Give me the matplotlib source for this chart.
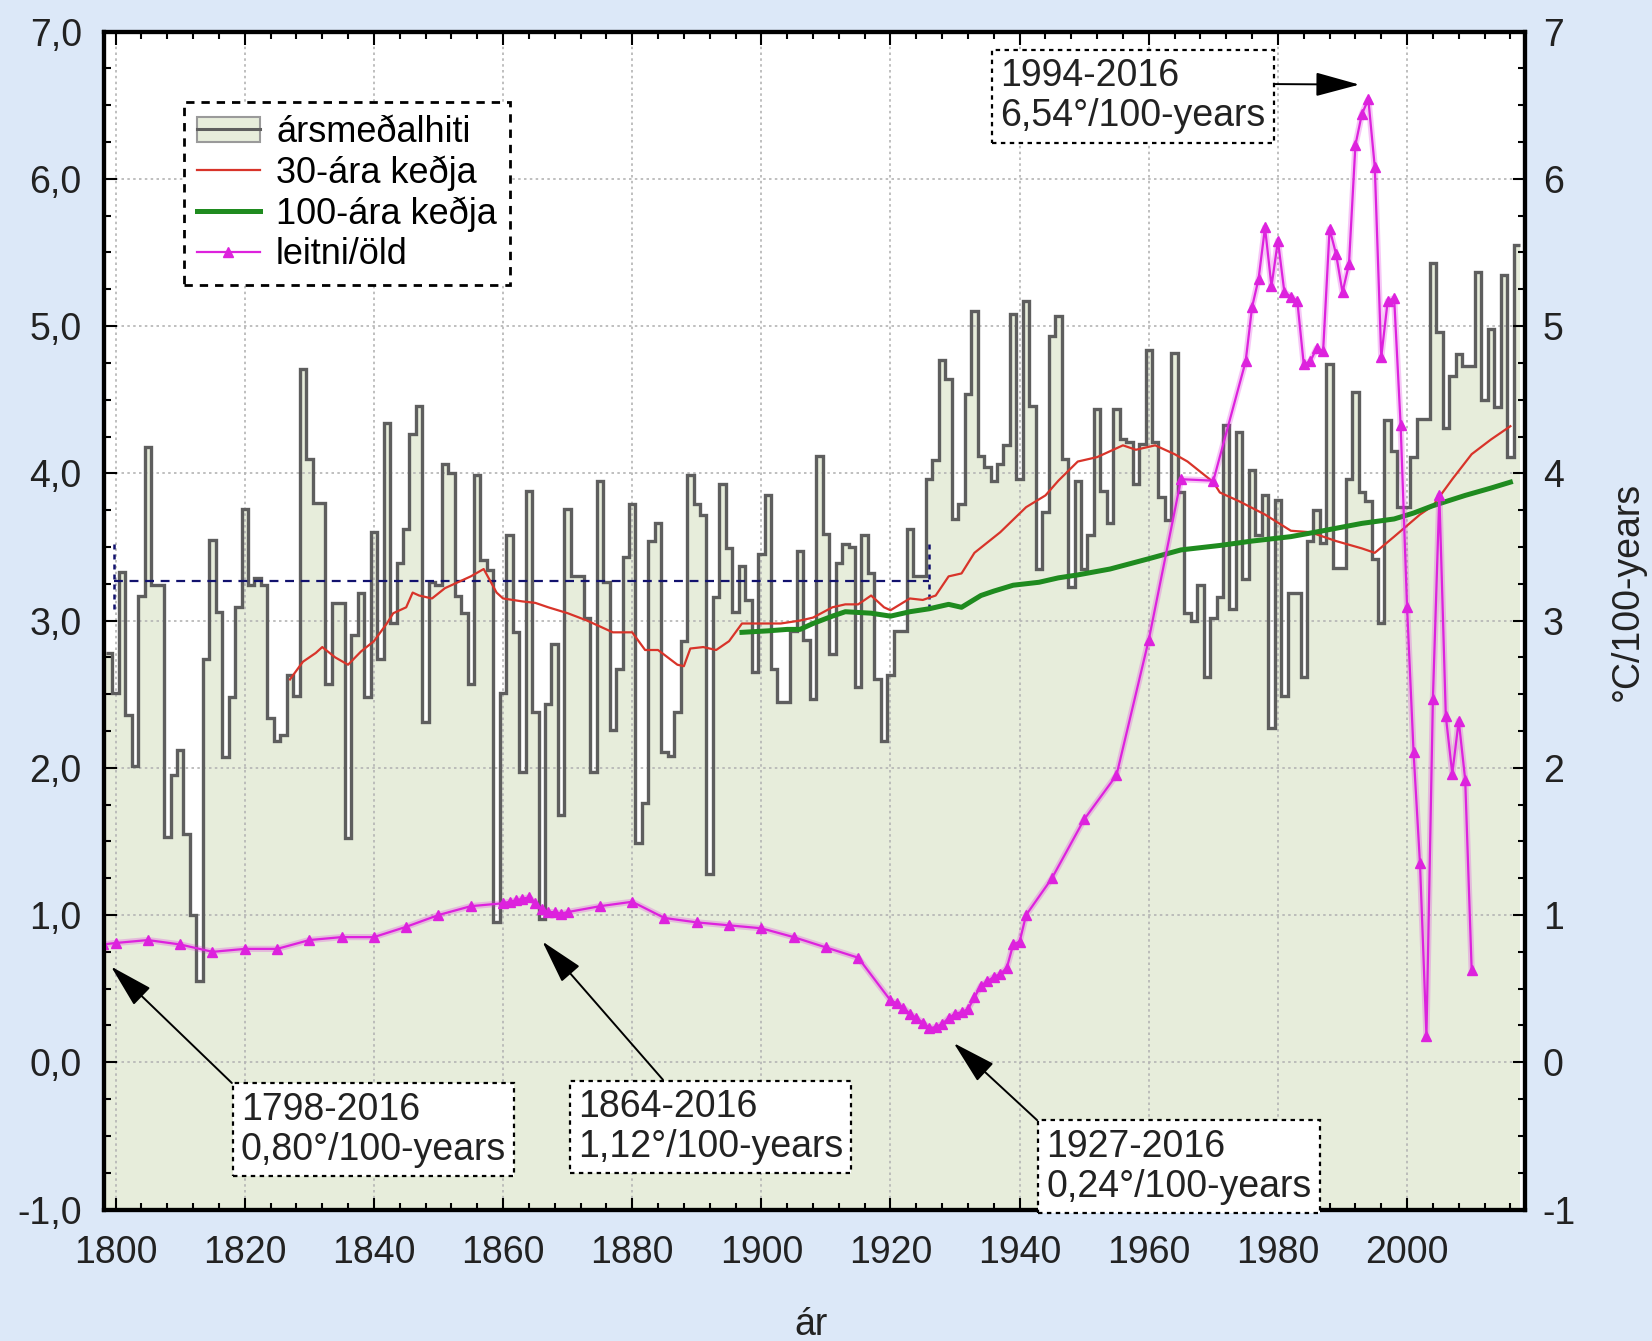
import numpy as np
import matplotlib
matplotlib.use("Agg")
import matplotlib.pyplot as plt
from matplotlib.lines import Line2D
from matplotlib.patches import Patch
from matplotlib.ticker import MultipleLocator, FuncFormatter

plt.rcParams['font.family'] = ['Liberation Sans', 'DejaVu Sans']

# annual mean temperature, one value per year 1798-2016
years = np.arange(1798, 2017)
temps = [
    2.78, 2.51, 3.33, 2.36, 2.01, 3.17, 4.18, 3.24, 3.24, 1.53,
    1.95, 2.12, 1.55, 1.00, 0.55, 2.74, 3.55, 3.06, 2.07, 2.48,
    3.09, 3.76, 3.24, 3.29, 3.24, 2.34, 2.18, 2.22, 2.63, 2.49,
    4.71, 4.10, 3.80, 3.80, 2.57, 3.12, 3.12, 1.52, 2.90, 3.19,
    2.48, 3.60, 2.74, 4.34, 2.98, 3.39, 3.62, 4.27, 4.46, 2.31,
    3.26, 3.24, 4.06, 4.00, 3.17, 3.05, 2.57, 3.99, 3.41, 3.34,
    0.95, 2.51, 3.58, 2.92, 1.97, 3.88, 2.38, 0.97, 2.43, 2.84,
    1.68, 3.76, 3.30, 3.30, 3.02, 1.97, 3.95, 3.26, 2.26, 2.67,
    3.43, 3.79, 1.49, 1.76, 3.54, 3.66, 2.11, 2.08, 2.38, 2.86,
    3.99, 3.79, 3.72, 1.28, 3.16, 3.93, 3.49, 3.06, 3.37, 3.14,
    2.65, 3.45, 3.85, 2.67, 2.45, 2.45, 2.93, 3.47, 2.87, 2.47,
    4.12, 3.59, 2.77, 3.39, 3.52, 3.50, 2.55, 3.58, 3.32, 2.60,
    2.18, 2.63, 2.93, 2.93, 3.62, 3.30, 3.30, 3.96, 4.09, 4.77,
    4.64, 3.69, 3.79, 4.54, 5.10, 4.12, 4.04, 3.95, 4.06, 4.19,
    5.08, 3.96, 5.17, 4.46, 3.35, 3.74, 4.93, 5.07, 4.10, 3.23,
    3.95, 3.35, 3.58, 4.44, 3.88, 3.66, 4.44, 4.23, 4.21, 3.93,
    4.20, 4.84, 4.21, 3.84, 3.68, 4.82, 3.87, 3.05, 3.00, 3.24,
    2.62, 3.02, 3.16, 4.33, 3.08, 4.28, 3.28, 4.02, 3.58, 3.85,
    2.27, 3.82, 2.49, 3.19, 3.19, 2.62, 3.54, 3.75, 3.53, 4.74,
    3.36, 3.36, 3.96, 4.55, 3.87, 3.81, 3.42, 2.98, 4.36, 4.15,
    3.77, 3.77, 4.11, 4.37, 4.37, 5.43, 4.96, 4.31, 4.66, 4.81,
    4.73, 4.73, 5.37, 4.50, 4.98, 4.45, 5.35, 4.11, 5.55,
]

# 30-year running mean
run30_x = [1827, 1829, 1831, 1832, 1834, 1836, 1838, 1840, 1842, 1843,
           1845, 1846, 1847, 1849, 1851, 1853, 1855, 1857, 1859, 1860,
           1863, 1865, 1867, 1870, 1873, 1877, 1880, 1882, 1884, 1887,
           1888, 1889, 1891, 1893, 1895, 1897, 1900, 1903, 1906, 1908,
           1911, 1913, 1915, 1917, 1919, 1920, 1923, 1925, 1927, 1929,
           1931, 1933, 1937, 1941, 1944, 1946, 1949, 1952, 1955, 1956,
           1958, 1960, 1961, 1964, 1966, 1970, 1971, 1974, 1978, 1982,
           1985, 1989, 1993, 1995, 1998, 2002, 2004, 2007, 2010, 2013,
           2016]
run30_y = [2.60, 2.72, 2.78, 2.82, 2.75, 2.70, 2.79, 2.86, 2.98, 3.05,
           3.09, 3.19, 3.17, 3.15, 3.22, 3.26, 3.30, 3.35, 3.19, 3.15,
           3.13, 3.12, 3.09, 3.05, 3.00, 2.92, 2.92, 2.80, 2.80, 2.70,
           2.69, 2.81, 2.82, 2.80, 2.86, 2.98, 2.98, 2.98, 3.00, 3.02,
           3.09, 3.11, 3.11, 3.17, 3.09, 3.07, 3.15, 3.14, 3.17, 3.30,
           3.32, 3.46, 3.60, 3.77, 3.85, 3.95, 4.08, 4.11, 4.17, 4.19,
           4.16, 4.18, 4.19, 4.13, 4.08, 3.94, 3.87, 3.81, 3.72, 3.61,
           3.60, 3.54, 3.49, 3.46, 3.57, 3.72, 3.78, 3.96, 4.13, 4.23,
           4.32]

# 100-year running mean
run100_x = [1897, 1901, 1904, 1906, 1908, 1911, 1913, 1917, 1920, 1923,
            1926, 1929, 1931, 1934, 1936, 1939, 1943, 1946, 1949, 1954,
            1960, 1965, 1971, 1976, 1982, 1987, 1993, 1998, 2001, 2004,
            2009, 2013, 2016]
run100_y = [2.92, 2.93, 2.94, 2.94, 2.98, 3.03, 3.06, 3.05, 3.03, 3.06,
            3.08, 3.11, 3.09, 3.17, 3.20, 3.24, 3.26, 3.29, 3.31, 3.35,
            3.42, 3.48, 3.51, 3.54, 3.57, 3.61, 3.66, 3.69, 3.73, 3.78,
            3.85, 3.90, 3.94]

# trend per century from start year to 2016
trend_x = [1798, 1800, 1805, 1810, 1815, 1820, 1825, 1830, 1835, 1840,
           1845, 1850, 1855, 1860, 1861, 1862, 1863, 1864, 1865, 1866,
           1867, 1868, 1869, 1870, 1875, 1880, 1885, 1890, 1895, 1900,
           1905, 1910, 1915, 1920, 1921, 1922, 1923, 1924, 1925, 1926,
           1927, 1928, 1929, 1930, 1931, 1932, 1933, 1934, 1935, 1936,
           1937, 1938, 1939, 1940, 1941, 1945, 1950, 1955, 1960, 1965,
           1970, 1975, 1976, 1977, 1978, 1979, 1980, 1981, 1982, 1983,
           1984, 1985, 1986, 1987, 1988, 1989, 1990, 1991, 1992, 1993,
           1994, 1995, 1996, 1997, 1998, 1999, 2000, 2001, 2002, 2003,
           2004, 2005, 2006, 2007, 2008, 2009, 2010]
trend_y = [0.80, 0.81, 0.83, 0.80, 0.75, 0.77, 0.77, 0.83, 0.85, 0.85,
           0.92, 1.00, 1.06, 1.08, 1.09, 1.10, 1.11, 1.12, 1.08, 1.04,
           1.02, 1.02, 1.01, 1.02, 1.06, 1.09, 0.98, 0.95, 0.93, 0.91,
           0.85, 0.78, 0.71, 0.42, 0.40, 0.37, 0.33, 0.30, 0.27, 0.23,
           0.24, 0.26, 0.30, 0.33, 0.34, 0.36, 0.44, 0.52, 0.55, 0.58,
           0.60, 0.64, 0.80, 0.82, 1.00, 1.25, 1.65, 1.95, 2.87, 3.96,
           3.95, 4.76, 5.13, 5.32, 5.67, 5.27, 5.58, 5.23, 5.20, 5.17,
           4.74, 4.76, 4.85, 4.83, 5.66, 5.49, 5.23, 5.42, 6.23, 6.44,
           6.54, 6.08, 4.79, 5.17, 5.19, 4.33, 3.09, 2.11, 1.35, 0.18,
           2.47, 3.85, 2.35, 1.96, 2.32, 1.92, 0.63]

# mean level with bracket ends
mean_x0, mean_x1, mean_val = 1799.7, 1926.0, 3.27
mean_lo, mean_hi = 3.08, 3.53

fill_c = '#e7eddb'
step_c = '#5e5e5e'
mag = '#dd22dd'

fig = plt.figure(figsize=(16.52, 13.41), dpi=100, facecolor='#dce8f8')
ax = fig.add_axes([0.06295, 0.09806, 0.85993, 0.87837])
ax.set_facecolor('white')
ax.set_xlim(1798.2, 2018.2)
ax.set_ylim(-1, 7)

edges = np.append(years, years[-1] + 1) + 0.5
ax.stairs(temps, edges, baseline=-1, fill=True, color=fill_c, zorder=1)
ax.stairs(temps, edges, baseline=None, color=step_c, lw=2.4, zorder=2)

ax.grid(True, which='major', color='#b4b4b4', ls=(0, (1.5, 2)), lw=1.2)
ax.set_axisbelow('line')

ax.hlines(mean_val, mean_x0, mean_x1, colors='#12126e', linestyles=(0, (4, 3)), lw=1.6, zorder=2.5)
ax.vlines([mean_x0, mean_x1], mean_lo, mean_hi, colors='#12126e', linestyles=(0, (2, 2)), lw=1.8, zorder=2.5)

ax.plot(run30_x, run30_y, color='#d8342a', lw=1.6, zorder=3)
ax.plot(run100_x, run100_y, color='#1f8b1f', lw=3.6, zorder=4)
ax.plot(trend_x, trend_y, color=mag, lw=4.5, alpha=0.25, zorder=5)
ax.plot(trend_x, trend_y, color=mag, lw=1.6, marker='^', ms=7, mec=mag, mfc=mag, zorder=6)

# axes styling
for sp in ax.spines.values():
    sp.set_linewidth(3)
ax.xaxis.set_major_locator(MultipleLocator(20))
ax.xaxis.set_minor_locator(MultipleLocator(4))
ax.yaxis.set_major_locator(MultipleLocator(1))
ax.yaxis.set_minor_locator(MultipleLocator(0.25))
ax.yaxis.set_major_formatter(FuncFormatter(lambda v, p: f"{v:.1f}".replace('.', ',')))
ax.tick_params(which='both', direction='in', top=True, right=False, width=1.5,
               labelsize=27, labelcolor='#222222')
ax.tick_params(which='major', length=9)
ax.tick_params(which='minor', length=5)
ax.tick_params(axis='x', pad=18)
ax.tick_params(axis='y', pad=16)

ax2 = ax.twinx()
ax2.set_ylim(-1, 7)
for sp in ax2.spines.values():
    sp.set_linewidth(3)
ax2.yaxis.set_major_locator(MultipleLocator(1))
ax2.yaxis.set_minor_locator(MultipleLocator(0.25))
ax2.yaxis.set_major_formatter(FuncFormatter(lambda v, p: f"{v:.0f}"))
ax2.tick_params(which='both', direction='in', width=1.5, labelsize=27, labelcolor='#222222', pad=13)
ax2.tick_params(which='major', length=9)
ax2.tick_params(which='minor', length=5)

fig.text(811 / 1652, 1 - 1325 / 1341, 'ár', ha='center', va='center', fontsize=27, color='#222222')
fig.text(1628 / 1652, 1 - 591 / 1341, '°C/100-years', rotation=90, ha='center', va='center',
         fontsize=27, color='#222222')

# legend
handles = [
    (Patch(fc=fill_c, ec='#9a9a9a', lw=1.5), Line2D([], [], color=step_c, lw=2.2)),
    Line2D([], [], color='#d8342a', lw=1.6),
    Line2D([], [], color='#1f8b1f', lw=3.6),
    Line2D([], [], color=mag, lw=1.6, marker='^', ms=7),
]
labels = ['ársmeðalhiti', '30-ára keðja', '100-ára keðja', 'leitni/öld']
leg = ax2.legend(handles, labels, loc='upper left', bbox_to_anchor=(0.0563, 0.940),
                 fontsize=26, frameon=True, fancybox=False, framealpha=1,
                 edgecolor='black', borderpad=0.35, labelspacing=0.15,
                 handlelength=1.75, handletextpad=0.45, borderaxespad=0)
leg.get_frame().set_linestyle((0, (3, 2.5)))
leg.get_frame().set_linewidth(2)

# annotations
box = dict(boxstyle='square,pad=0.22', fc='white', ec='black', lw=1.6, ls=(0, (2, 2)))
arrow = dict(arrowstyle='-|>,head_length=1.1,head_width=0.3', mutation_scale=25,
             fc='black', ec='black', lw=1.4, shrinkA=0, shrinkB=0)
notes = [
    ('1798-2016\n0,80°/100-years', (1799.3, 0.65), (1819.4, -0.20), (0, 1)),
    ('1864-2016\n1,12°/100-years', (1866.1, 0.82), (1871.6, -0.18), (0.35, 1)),
    ('1927-2016\n0,24°/100-years', (1929.8, 0.13), (1944.1, -0.45), (0, 1)),
    ('1994-2016\n6,54°/100-years', (1992.6, 6.64), (1937.0, 6.82), (1, 0.66)),
]
for txt, tip, pos, rel in notes:
    a = dict(arrow)
    a['relpos'] = rel
    ax2.annotate(txt, xy=tip, xytext=pos, ha='left', va='top', fontsize=27,
                 color='#222222', linespacing=1.15, bbox=box, arrowprops=a,
                 annotation_clip=False, zorder=10)

fig.savefig('out.png', dpi=100, facecolor=fig.get_facecolor())
